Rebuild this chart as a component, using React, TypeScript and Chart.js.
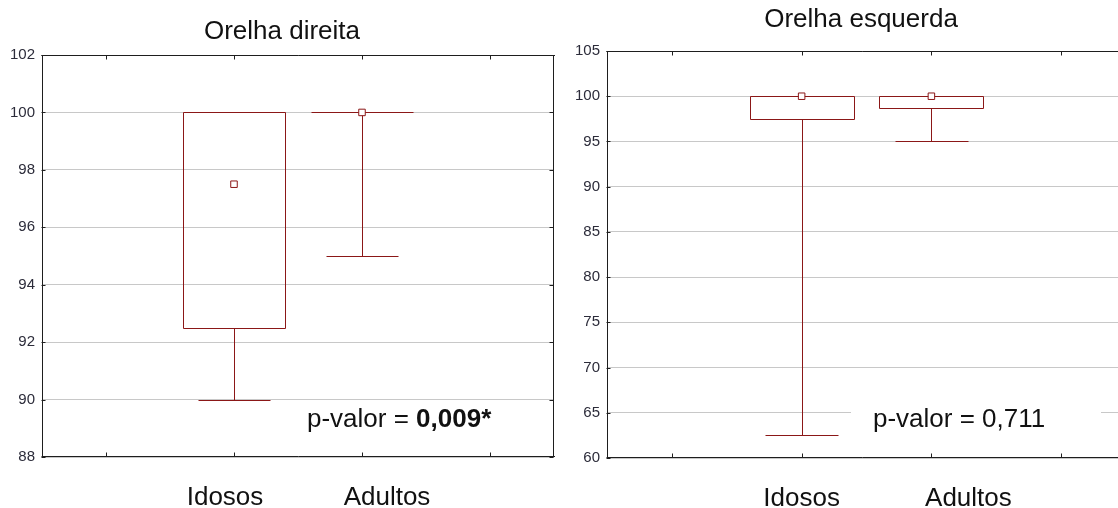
import React, { useEffect, useRef } from "react";
import { Chart, registerables } from "chart.js";

Chart.register(...registerables);

// ---------- data ----------
const categories = ["Idosos", "Adultos"];
const categoryPositions = [1, 2];

const direitaTitle = "Orelha direita";
const direitaMin = [90, 95];
const direitaQ1 = [92.5, 100];
const direitaMedian = [97.5, 100];
const direitaQ3 = [100, 100];
const direitaMax = [100, 100];
const direitaPLabel = "p-valor = ";
const direitaPValue = "0,009*";

const esquerdaTitle = "Orelha esquerda";
const esquerdaMin = [62.5, 95];
const esquerdaQ1 = [97.5, 98.75];
const esquerdaMedian = [100, 100];
const esquerdaQ3 = [100, 100];
const esquerdaMax = [100, 100];
const esquerdaPLabel = "p-valor = ";
const esquerdaPValue = "0,711";

// ---------- styles ----------
const RED = "#8b1717";
const AXIS = "#1e1e1e";
const GRID = "#c8c8c8";
const TICK = "#2c2c3a";
const TEXT = "#111111";
const FAMILY = "'Liberation Sans', Arial, Helvetica, sans-serif";
const BOX_HALF = 0.4;
const CAP_HALF = 0.28;

const crisp = (v: number) => Math.round(v) + 0.5;

const boxPlugin = {
  id: "boxDraw",
  beforeDatasetsDraw(chart: any, _args: any, opts: any) {
    const { ctx } = chart;
    const x = chart.scales.x;
    const y = chart.scales.y;
    ctx.save();
    ctx.strokeStyle = RED;
    ctx.lineWidth = 1;
    opts.positions.forEach((pos: number, i: number) => {
      const cx = crisp(x.getPixelForValue(pos));
      const bl = crisp(x.getPixelForValue(pos - BOX_HALF));
      const br = crisp(x.getPixelForValue(pos + BOX_HALF));
      const cl = crisp(x.getPixelForValue(pos - CAP_HALF));
      const cr = crisp(x.getPixelForValue(pos + CAP_HALF));
      const yq1 = crisp(y.getPixelForValue(opts.q1[i]));
      const yq3 = crisp(y.getPixelForValue(opts.q3[i]));
      const ymin = crisp(y.getPixelForValue(opts.min[i]));
      const ymax = crisp(y.getPixelForValue(opts.max[i]));
      ctx.beginPath();
      if (opts.q1[i] !== opts.q3[i]) {
        ctx.rect(bl, yq3, br - bl, yq1 - yq3);
      } else {
        ctx.moveTo(bl, yq1);
        ctx.lineTo(br, yq1);
      }
      if (opts.min[i] < opts.q1[i]) {
        ctx.moveTo(cx, yq1);
        ctx.lineTo(cx, ymin);
        ctx.moveTo(cl, ymin);
        ctx.lineTo(cr, ymin);
      }
      if (opts.max[i] > opts.q3[i]) {
        ctx.moveTo(cx, yq3);
        ctx.lineTo(cx, ymax);
        ctx.moveTo(cl, ymax);
        ctx.lineTo(cr, ymax);
      }
      ctx.stroke();
    });
    ctx.restore();
  },
  afterDraw(chart: any, _args: any, opts: any) {
    const { ctx, chartArea } = chart;
    const x = chart.scales.x;
    const y = chart.scales.y;
    const L = crisp(chartArea.left) - 1;
    const R = crisp(chartArea.right) - 1;
    const T = crisp(chartArea.top);
    const B = crisp(chartArea.bottom) - 1;
    ctx.save();

    // p-value text with white background
    ctx.font = `26px ${FAMILY}`;
    const labelW = ctx.measureText(opts.pLabel).width;
    ctx.fillStyle = "#ffffff";
    ctx.fillRect(opts.pX - opts.pBgPadL, opts.pBaseline - 24, opts.pBgWidth, 30);
    ctx.fillStyle = TEXT;
    ctx.textAlign = "left";
    ctx.textBaseline = "alphabetic";
    ctx.fillText(opts.pLabel, opts.pX, opts.pBaseline);
    ctx.font = `${opts.pBold ? "bold " : ""}26px ${FAMILY}`;
    ctx.fillText(opts.pValue, opts.pX + labelW, opts.pBaseline);

    // frame
    ctx.strokeStyle = AXIS;
    ctx.lineWidth = 1;
    ctx.beginPath();
    ctx.moveTo(L, T);
    ctx.lineTo(chartArea.right + 1, T);
    ctx.moveTo(L, B);
    ctx.lineTo(chartArea.right + 1, B);
    if (opts.rightBorder) {
      ctx.moveTo(R, T);
      ctx.lineTo(R, B);
    }
    // inward ticks on x
    for (let v = 0; v <= Math.floor(x.max); v++) {
      const px = crisp(x.getPixelForValue(v));
      if (px > chartArea.right - 1) continue;
      ctx.moveTo(px, T);
      ctx.lineTo(px, T + 4);
      ctx.moveTo(px, B);
      ctx.lineTo(px, B - 4);
    }
    // inward ticks on y
    for (let v = y.min; v <= y.max; v += opts.yStep) {
      const py = crisp(y.getPixelForValue(v));
      ctx.moveTo(L, py);
      ctx.lineTo(L + 4, py);
      if (opts.rightBorder) {
        ctx.moveTo(R, py);
        ctx.lineTo(R - 4, py);
      }
    }
    ctx.stroke();

    // title
    ctx.font = `26px ${FAMILY}`;
    ctx.fillStyle = TEXT;
    ctx.textAlign = "center";
    ctx.fillText(opts.title, opts.titleX, opts.titleBaseline);

    // category labels
    opts.categories.forEach((c: string, i: number) => {
      const px = x.getPixelForValue(opts.positions[i]) + opts.labelShift[i];
      ctx.fillText(c, px, opts.labelBaseline);
    });
    ctx.restore();
  },
};

type PanelProps = {
  left: number;
  width: number;
  title: string;
  titleX: number;
  titleBaseline: number;
  min: number[];
  q1: number[];
  median: number[];
  q3: number[];
  max: number[];
  yMin: number;
  yMax: number;
  yStep: number;
  xMax: number;
  yAxisWidth: number;
  padTop: number;
  padRight: number;
  xAxisHeight: number;
  labelShift: number[];
  labelBaseline: number;
  pLabel: string;
  pValue: string;
  pBold: boolean;
  pX: number;
  pBaseline: number;
  pBgPadL: number;
  pBgWidth: number;
  rightBorder: boolean;
};

function Panel(p: PanelProps) {
  const ref = useRef<HTMLCanvasElement | null>(null);
  useEffect(() => {
    if (!ref.current) return;
    const chart = new Chart(ref.current, {
      type: "scatter",
      data: {
        datasets: [
          {
            data: categoryPositions.map((x, i) => ({ x, y: p.median[i] })),
            pointStyle: "rect",
            pointRadius: 4.6,
            pointHoverRadius: 4.6,
            borderColor: RED,
            backgroundColor: "#ffffff",
            borderWidth: 1,
          },
        ],
      },
      options: {
        responsive: false,
        animation: false,
        events: [],
        layout: {
          autoPadding: false,
          padding: { top: p.padTop, right: p.padRight, left: 0, bottom: 0 },
        },
        plugins: {
          legend: { display: false },
          tooltip: { enabled: false },
          title: { display: false },
          boxDraw: {
            positions: categoryPositions,
            categories,
            min: p.min,
            q1: p.q1,
            q3: p.q3,
            max: p.max,
            yStep: p.yStep,
            title: p.title,
            titleX: p.titleX,
            titleBaseline: p.titleBaseline,
            labelShift: p.labelShift,
            labelBaseline: p.labelBaseline,
            pLabel: p.pLabel,
            pValue: p.pValue,
            pBold: p.pBold,
            pX: p.pX,
            pBaseline: p.pBaseline,
            pBgPadL: p.pBgPadL,
            pBgWidth: p.pBgWidth,
            rightBorder: p.rightBorder,
          },
        } as any,
        scales: {
          x: {
            type: "linear",
            min: -0.5,
            max: p.xMax,
            ticks: { display: false },
            grid: { display: false },
            border: { display: false },
            afterFit: (s: any) => {
              s.height = p.xAxisHeight;
            },
          },
          y: {
            type: "linear",
            min: p.yMin,
            max: p.yMax,
            ticks: {
              stepSize: p.yStep,
              color: TICK,
              font: { family: FAMILY, size: 15 },
              padding: 7,
            },
            grid: { color: GRID, lineWidth: 1, drawTicks: false },
            border: { display: true, color: AXIS, width: 1 },
            afterFit: (s: any) => {
              s.width = p.yAxisWidth;
            },
          },
        },
      },
      plugins: [boxPlugin],
    });
    return () => chart.destroy();
  }, []);
  return (
    <canvas
      ref={ref}
      width={p.width}
      height={508}
      style={{ position: "absolute", left: p.left, top: 0, width: p.width, height: 508 }}
    />
  );
}

export default function App() {
  return (
    <div
      style={{
        position: "absolute",
        left: 0,
        top: 0,
        width: 1118,
        height: 508,
        overflow: "hidden",
        background: "#ffffff",
      }}
    >
      <Panel
        left={0}
        width={560}
        title={direitaTitle}
        titleX={282}
        titleBaseline={39}
        min={direitaMin}
        q1={direitaQ1}
        median={direitaMedian}
        q3={direitaQ3}
        max={direitaMax}
        yMin={88}
        yMax={102}
        yStep={2}
        xMax={3.5}
        yAxisWidth={42}
        padTop={55}
        padRight={6}
        xAxisHeight={51}
        labelShift={[-9, 25]}
        labelBaseline={505}
        pLabel={direitaPLabel}
        pValue={direitaPValue}
        pBold={true}
        pX={307}
        pBaseline={427}
        pBgPadL={22}
        pBgWidth={250}
        rightBorder={true}
      />
      <Panel
        left={560}
        width={558}
        title={esquerdaTitle}
        titleX={301}
        titleBaseline={27}
        min={esquerdaMin}
        q1={esquerdaQ1}
        median={esquerdaMedian}
        q3={esquerdaQ3}
        max={esquerdaMax}
        yMin={60}
        yMax={105}
        yStep={5}
        xMax={3.438}
        yAxisWidth={47}
        padTop={51}
        padRight={0}
        xAxisHeight={50}
        labelShift={[0, 37]}
        labelBaseline={506}
        pLabel={esquerdaPLabel}
        pValue={esquerdaPValue}
        pBold={false}
        pX={313}
        pBaseline={427}
        pBgPadL={22}
        pBgWidth={250}
        rightBorder={false}
      />
    </div>
  );
}
